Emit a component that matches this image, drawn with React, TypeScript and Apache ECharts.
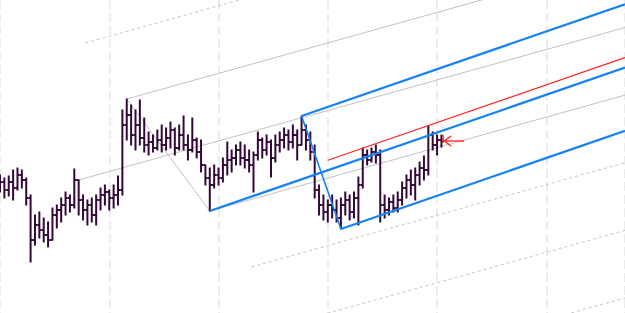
import React, { useEffect, useRef } from "react";
import * as echarts from "echarts";

// ---- data (price units; higher = up) ----
// each bar: [open, high, low, close]
const BARS: number[][] = [
  [128,138,121,131],[131,135,115,123],[123,137,117,131],[131,143,113,125],[125,145,123,138],
  [138,143,125,133],[133,135,108,115],[115,118,51,73],[73,98,68,88],[88,101,75,83],
  [83,95,71,78],[78,91,66,73],[73,105,73,98],[98,108,85,103],[103,115,91,108],
  [108,121,98,115],[115,118,101,108],[108,144,105,133],[133,133,98,113],[113,118,93,103],
  [103,113,88,108],[108,115,91,98],[98,118,88,113],[113,125,103,118],[118,128,108,121],
  [121,123,103,115],[115,128,105,118],[118,137,108,123],[123,203,118,188],[188,214,173,198],
  [198,208,168,178],[178,203,163,188],[188,213,168,175],[175,195,161,168],[168,181,158,171],
  [171,178,161,165],[165,183,163,173],[173,188,161,168],[168,185,163,175],[175,191,165,183],
  [183,185,158,165],[165,188,163,178],[178,197,163,168],[168,178,153,163],[163,195,161,173],
  [173,175,155,161],[161,173,141,148],[148,148,128,135],[135,145,102,128],[128,148,125,138],
  [138,145,128,135],[135,155,131,148],[148,171,138,153],[153,163,141,155],[155,168,148,163],
  [163,171,148,155],[155,168,145,153],[153,163,141,148],[148,161,121,158],[158,181,153,173],
  [173,175,155,163],[163,178,158,171],[171,173,136,155],[155,178,151,168],[168,181,161,173],
  [173,185,165,178],[178,183,163,171],[171,188,165,178],[178,183,153,168],[168,197,168,183],
  [183,188,163,173],[173,181,153,161],[161,168,115,123],[123,128,98,108],[108,118,93,101],
  [101,113,91,108],[108,118,95,103],[103,113,91,95],[95,115,84,108],[108,121,98,113],
  [113,118,93,101],[101,121,95,115],[115,136,88,128],[128,165,125,158],[158,163,148,153],
  [153,165,151,161],[161,168,150,158],[158,163,91,108],[108,118,95,103],[103,115,98,111],
  [111,118,101,105],[105,121,101,113],[113,131,108,125],[125,138,115,133],[133,143,118,128],
  [128,145,113,138],[138,151,128,145],[145,157,133,143],[143,187,138,178],[178,181,163,168],
  [168,178,158,173],[173,178,166,172],
];

// pitchfork anchor points: [bar index, price]
const GRAY_FORK: number[][] = [[18, 133], [29, 214], [48, 102]];
const BLUE_FORK: number[][] = [[48, 102], [69, 197], [78, 84]];
const GRAY_EXT_LEVELS = [2, -2, -3, -4];
const RED_START: number[] = [75, 152.7];
const ARROW_AT: number[] = [101.4, 172];

const X_MAX = 143;
const GRID_STEP = 25;

type Pt = number[];

function fork(p0: Pt, p1: Pt, p2: Pt) {
  const mx = (p1[0] + p2[0]) / 2;
  const my = (p1[1] + p2[1]) / 2;
  const slope = (my - p0[1]) / (mx - p0[0]);
  const at = (p: Pt, x: number) => p[1] + slope * (x - p[0]);
  const width = p1[1] - at(p0, p1[0]);
  const m12 = (p2[1] - p1[1]) / (p2[0] - p1[0]);
  const ext = (k: number) => {
    const x =
      (p0[1] - slope * p0[0] + k * width - p1[1] + m12 * p1[0]) / (m12 - slope);
    const y = at(p0, x) + k * width;
    return [[x, y], [X_MAX, at(p0, X_MAX) + k * width]];
  };
  return {
    slope,
    median: [[p0[0], p0[1]], [X_MAX, at(p0, X_MAX)]],
    upper: [[p1[0], p1[1]], [X_MAX, at(p1, X_MAX)]],
    lower: [[p2[0], p2[1]], [X_MAX, at(p2, X_MAX)]],
    handle: [[p1[0], p1[1]], [p2[0], p2[1]]],
    ext,
  };
}

const BAR_COLOR = "#330838";
const BLUE = "#1782f0";
const GRAY = "#c2c2c2";
const RED = "#ff2020";

function seg(data: number[][], color: string, width: number, type: any = "solid", z = 1) {
  return {
    type: "line",
    data,
    symbol: "none",
    silent: true,
    animation: false,
    z,
    lineStyle: { color, width, type },
  };
}

export default function App() {
  const ref = useRef<HTMLDivElement>(null);
  useEffect(() => {
    if (!ref.current) return;
    const chart = echarts.init(ref.current, undefined, { renderer: "svg" });
    const g = fork(GRAY_FORK[0], GRAY_FORK[1], GRAY_FORK[2]);
    const b = fork(BLUE_FORK[0], BLUE_FORK[1], BLUE_FORK[2]);
    const redLine = [
      [RED_START[0], RED_START[1]],
      [X_MAX, RED_START[1] + b.slope * (X_MAX - RED_START[0])],
    ];
    const series: any[] = [];
    GRAY_EXT_LEVELS.forEach((k) => series.push(seg(g.ext(k), "#c4c4c4", 1, [3, 3], 1)));
    series.push(seg(g.median, GRAY, 1, "solid", 1));
    series.push(seg(g.upper, GRAY, 1, "solid", 1));
    series.push(seg(g.lower, GRAY, 1, "solid", 1));
    series.push(seg(g.handle, GRAY, 1, "solid", 1));
    series.push({
      type: "custom",
      z: 2,
      silent: true,
      data: BARS.map((v, i) => [i, v[0], v[1], v[2], v[3]]),
      encode: { x: 0, y: [1, 2, 3, 4] },
      renderItem: (params: any, api: any) => {
        const x = api.value(0);
        const pO = api.coord([x, api.value(1)]);
        const pH = api.coord([x, api.value(2)]);
        const pL = api.coord([x, api.value(3)]);
        const pC = api.coord([x, api.value(4)]);
        const half = api.size([1, 0])[0] * 0.5;
        const style = { stroke: BAR_COLOR, lineWidth: 2 };
        return {
          type: "group",
          children: [
            { type: "line", shape: { x1: pH[0], y1: pH[1] - 0.5, x2: pL[0], y2: pL[1] + 0.5 }, style },
            { type: "line", shape: { x1: pO[0] - half, y1: pO[1], x2: pO[0], y2: pO[1] }, style },
            { type: "line", shape: { x1: pC[0], y1: pC[1], x2: pC[0] + half, y2: pC[1] }, style },
          ],
        };
      },
    });
    series.push(seg(b.median, BLUE, 2.2, "solid", 3));
    series.push(seg(b.upper, BLUE, 2.2, "solid", 3));
    series.push(seg(b.lower, BLUE, 2.2, "solid", 3));
    series.push(seg(b.handle, BLUE, 1.6, "solid", 3));
    series.push(seg(redLine, RED, 1.2, "solid", 3));
    series.push({
      type: "custom",
      z: 4,
      silent: true,
      data: [ARROW_AT],
      encode: { x: 0, y: 1 },
      renderItem: (params: any, api: any) => {
        const p = api.coord([api.value(0), api.value(1)]);
        const style = { stroke: RED, lineWidth: 1.3, fill: "none" };
        return {
          type: "group",
          children: [
            { type: "line", shape: { x1: p[0], y1: p[1] - 6, x2: p[0], y2: p[1] + 2 }, style },
            { type: "line", shape: { x1: p[0], y1: p[1], x2: p[0] + 21, y2: p[1] }, style },
            { type: "polyline", shape: { points: [[p[0] + 8, p[1] - 5], [p[0] + 1, p[1]], [p[0] + 8, p[1] + 5]] }, style },
          ],
        };
      },
    });
    chart.setOption({
      animation: false,
      grid: { left: 0, right: 0, top: 0, bottom: 0 },
      xAxis: {
        type: "value",
        min: 0,
        max: X_MAX,
        interval: GRID_STEP,
        axisLine: { show: false },
        axisTick: { show: false },
        axisLabel: { show: false },
        splitLine: { show: true, lineStyle: { color: "#e6e6e6", width: 1.5, type: [9, 4] } },
      },
      yAxis: {
        type: "value",
        min: 0,
        max: 313,
        axisLine: { show: false },
        axisTick: { show: false },
        axisLabel: { show: false },
        splitLine: { show: false },
      },
      series,
    });
    return () => chart.dispose();
  }, []);
  return (
    <div
      ref={ref}
      style={{ position: "fixed", left: 0, top: 0, width: 625, height: 313, background: "#fff" }}
    />
  );
}
